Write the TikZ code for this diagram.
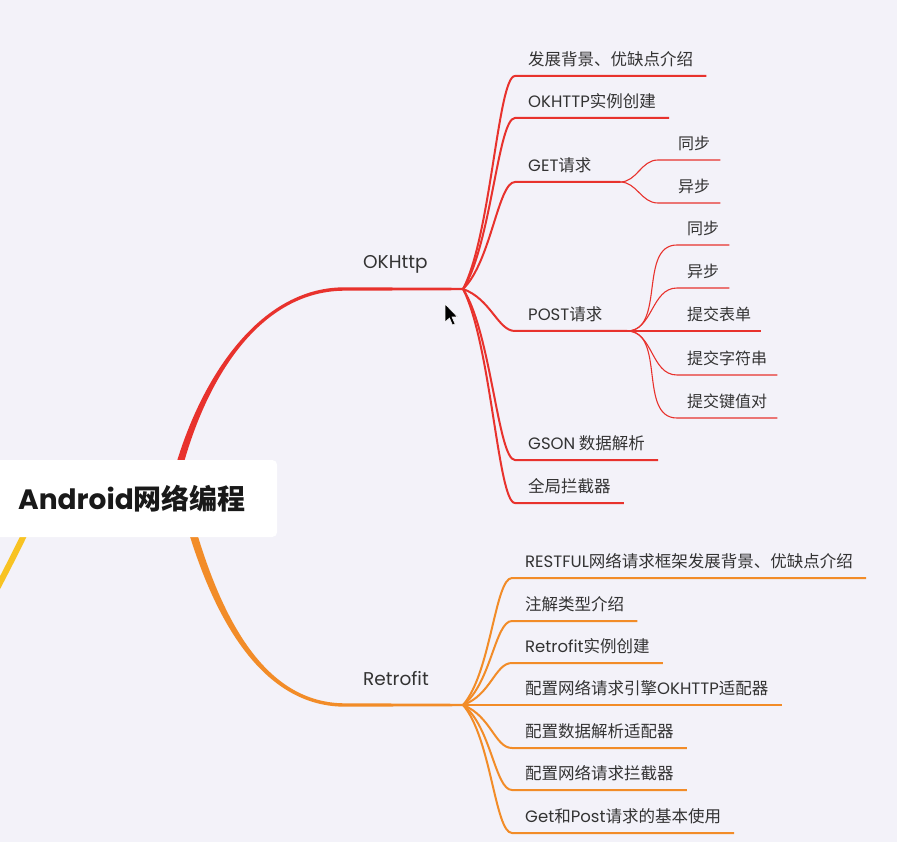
\documentclass[tikz,border=0pt]{standalone}
\usepackage{fontspec}
\setmainfont{Noto Sans CJK SC}
\newfontfamily\latf{Poppins}
\newcommand\La[1]{{\latf #1}}
\usetikzlibrary{calc}
\definecolor{bgc}{RGB}{243,242,249}
\definecolor{redc}{RGB}{232,50,45}
\definecolor{orac}{RGB}{242,140,40}
\definecolor{yelc}{RGB}{248,195,35}
\definecolor{txtc}{RGB}{51,51,51}
\begin{document}
\begin{tikzpicture}[x=1pt,y=-1pt,
 kid/.style={anchor=south west, inner xsep=13pt, inner ysep=6.5pt, text depth=4pt, text height=12pt, font=\fontsize{16.5}{20}\selectfont, text=txtc},
 subkid/.style={anchor=south west, inner xsep=10pt, inner ysep=6.5pt, text depth=4pt, text height=12pt, font=\fontsize{16}{20}\selectfont, text=txtc},
 redl/.style={draw=redc, line width=2pt},
 redsub/.style={draw=redc, line width=1.1pt},
 oral/.style={draw=orac, line width=2pt},
 branchlabel/.style={anchor=base west, inner sep=0pt, font=\latf\fontsize{18.5}{22}\selectfont, text=txtc},
 rootbox/.style={fill=white, rounded corners=5pt, anchor=west, minimum width=287pt, minimum height=77pt, text width=231pt, align=left, inner xsep=0pt, font=\bfseries\fontsize{28}{32}\selectfont, text=black!90}
]
\useasboundingbox (0,0) rectangle (897,842);
\fill[bgc] (0,0) rectangle (897,842);

\coordinate (okhub) at (463,289);
\coordinate (rehub) at (463,705);
\coordinate (gethub) at (620,182);
\coordinate (posthub) at (627,331);

% main branches
\draw[yelc, line width=6pt] (38,505) .. controls (28,528) and (12,560) .. (-8,598);
\fill[redc] (166,505) .. controls (186.5,400) and (250,286.8) .. (345,287.3) -- ($(okhub)+(0,-1.2)$) -- ($(okhub)+(0,1.2)$) -- (345,290.7) .. controls (250,290.7) and (193.5,400) .. (174,505) -- cycle;
\fill[orac] (189,505) .. controls (214,599) and (256,703.3) .. (345,703.3) -- ($(rehub)+(0,-1.2)$) -- ($(rehub)+(0,1.2)$) -- (345,706.7) .. controls (254,706.7) and (206,601) .. (181,505) -- cycle;

\node[rootbox] (root) at (-10,498.5) {\La{Android}网络编程};

\node[branchlabel] (okhttp) at (363,269) {OKHttp};
\node[branchlabel] (retrofit) at (363,685) {Retrofit};

% OKHttp children
\node[kid] (ok1) at (515,76) {发展背景、优缺点介绍};
\node[kid] (ok2) at (515,118) {\La{OKHTTP}实例创建};
\node[kid] (ok3) at (515,182) {\La{GET}请求};
\node[kid] (ok4) at (515,331) {\La{POST}请求};
\node[kid] (ok5) at (515,460) {\La{GSON} 数据解析};
\node[kid] (ok6) at (515,503) {全局拦截器};

\draw[redl] (okhub) .. controls +(28,-53) and +(-17,0) .. (ok1.south west) -- (ok1.south east);
\draw[redl] (okhub) .. controls +(28,-43) and +(-17,0) .. (ok2.south west) -- (ok2.south east);
\draw[redl] (okhub) .. controls +(28,-27) and +(-17,0) .. (ok3.south west) -- (gethub);
\draw[redl] (okhub) .. controls +(28,10) and +(-17,0) .. (ok4.south west) -- (posthub);
\draw[redl] (okhub) .. controls +(28,43) and +(-17,0) .. (ok5.south west) -- (ok5.south east);
\draw[redl] (okhub) .. controls +(28,54) and +(-17,0) .. (ok6.south west) -- (ok6.south east);

% GET children
\node[subkid] (g1) at (668,160) {同步};
\node[subkid] (g2) at (668,203) {异步};
\draw[redsub] (gethub) to[out=0,in=180] ([xshift=-10pt]g1.south west) -- (g1.south east);
\draw[redsub] (gethub) to[out=0,in=180] ([xshift=-10pt]g2.south west) -- (g2.south east);

% POST children
\node[subkid] (p1) at (677,245) {同步};
\node[subkid] (p2) at (677,288) {异步};
\node[subkid] (p3) at (677,331) {提交表单};
\node[subkid] (p4) at (677,375) {提交字符串};
\node[subkid] (p5) at (677,418) {提交键值对};
\draw[redsub] (posthub) to[out=0,in=180] (p1.south west) -- (p1.south east);
\draw[redsub] (posthub) to[out=0,in=180] (p2.south west) -- (p2.south east);
\draw[redsub] (posthub) -- (p3.south east);
\draw[redsub] (posthub) to[out=0,in=180] (p4.south west) -- (p4.south east);
\draw[redsub] (posthub) to[out=0,in=180] (p5.south west) -- (p5.south east);

% Retrofit children
\node[kid] (r1) at (512,578) {\La{RESTFUL}网络请求框架发展背景、优缺点介绍};
\node[kid] (r2) at (512,621) {注解类型介绍};
\node[kid] (r3) at (512,663) {\La{Retrofit}实例创建};
\node[kid] (r4) at (512,705) {配置网络请求引擎\La{OKHTTP}适配器};
\node[kid] (r5) at (512,748) {配置数据解析适配器};
\node[kid] (r6) at (512,790) {配置网络请求拦截器};
\node[kid] (r7) at (512,833) {\La{Get}和\La{Post}请求的基本使用};

\draw[oral] (rehub) .. controls +(28,-32) and +(-17,0) .. (r1.south west) -- (r1.south east);
\draw[oral] (rehub) .. controls +(28,-21) and +(-17,0) .. (r2.south west) -- (r2.south east);
\draw[oral] (rehub) .. controls +(28,-10) and +(-17,0) .. (r3.south west) -- (r3.south east);
\draw[oral] (rehub) -- (r4.south east);
\draw[oral] (rehub) .. controls +(28,11) and +(-17,0) .. (r5.south west) -- (r5.south east);
\draw[oral] (rehub) .. controls +(28,21) and +(-17,0) .. (r6.south west) -- (r6.south east);
\draw[oral] (rehub) .. controls +(28,32) and +(-17,0) .. (r7.south west) -- (r7.south east);

% mouse cursor
\fill[black, draw=white, line width=0.5pt] (445,304) -- (445,322) -- (449.5,318) -- (452.5,325) -- (455,324) -- (452,317) -- (457.5,317) -- cycle;
\end{tikzpicture}
\end{document}
